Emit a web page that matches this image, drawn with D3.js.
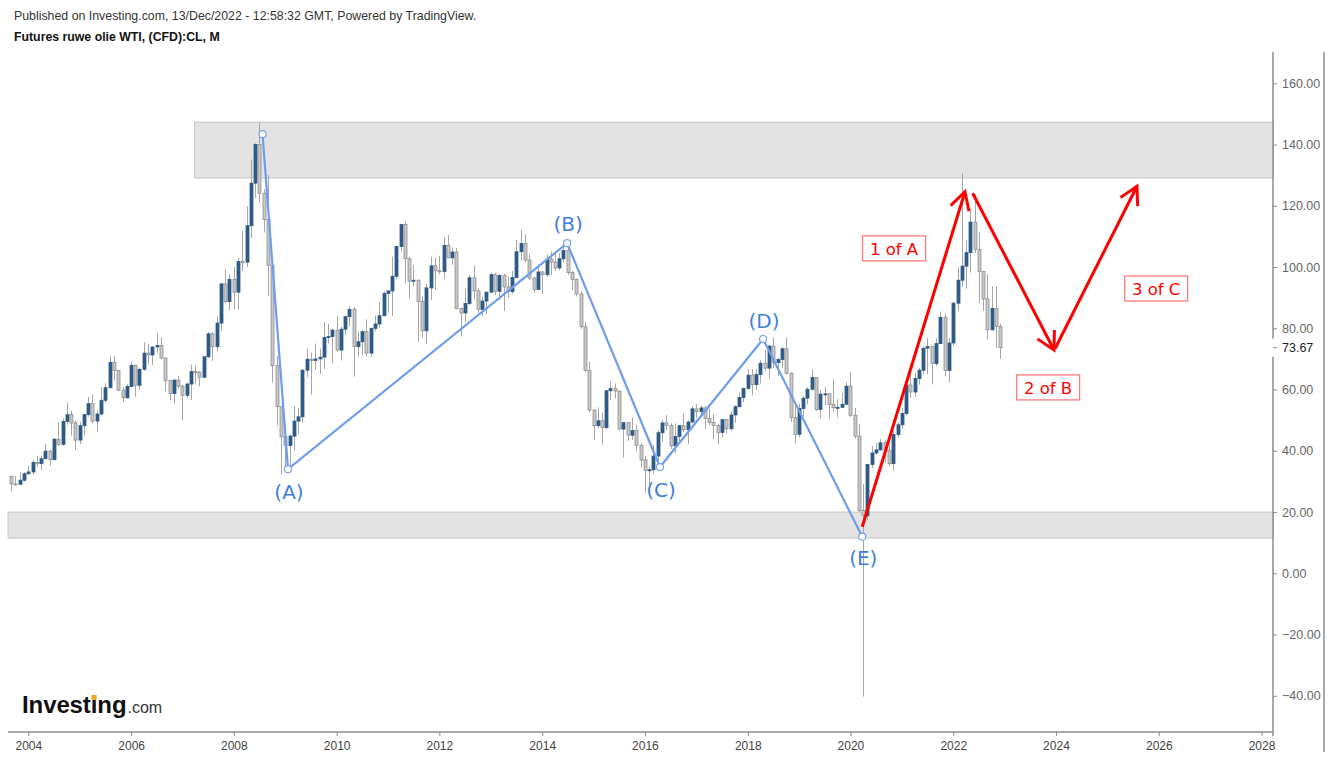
<!DOCTYPE html>
<html><head><meta charset="utf-8">
<script src="https://cdn.jsdelivr.net/npm/d3@7"></script>
<style>body{margin:0;background:#fff}svg{display:block;font-family:Arial,"Liberation Sans",sans-serif}</style>
</head><body><svg id="c" width="1332" height="758"></svg>
<script>
// Monthly candles, first bar = Sep 2003, last = Dec 2022
const firstMonth = [2003, 8];
const open = [
31.6,29.2,29.1,30.4,
32.5,33.1,36.2,35.8,37.4,39.9,37.1,43.8,42.1,49.6,51.8,49.1,
43.5,48.2,51.8,55.4,49.7,52.0,56.5,60.6,68.9,66.2,59.8,57.3,
61.0,67.9,61.4,66.6,71.9,71.3,73.9,74.4,70.3,62.9,58.7,63.1,
61.1,58.1,61.8,65.9,65.7,64.0,70.7,78.2,74.0,81.7,94.5,88.7,
96.0,91.8,101.8,101.6,113.5,127.4,140.0,124.1,115.5,100.6,67.8,54.4,
44.6,41.7,44.8,49.7,51.1,66.3,69.9,69.5,70.0,70.6,77.0,77.3,
79.4,72.9,79.7,83.8,86.2,74.0,75.6,78.9,71.9,80.0,81.4,84.1,
91.4,92.2,97.0,106.7,113.9,102.7,95.4,95.7,88.8,79.2,93.2,100.4,
98.8,98.5,107.1,103.0,104.9,86.5,85.0,88.1,96.5,92.2,86.2,88.9,
91.8,97.5,92.1,97.2,93.5,92.0,96.6,105.0,107.7,102.3,96.4,92.7,
98.4,97.5,102.6,101.6,99.7,102.7,105.4,98.2,96.0,91.2,80.5,66.2,
53.3,48.2,49.8,47.6,59.6,60.3,59.5,47.1,49.2,45.1,46.6,41.7,
37.0,33.6,33.8,38.3,45.9,49.1,48.3,41.6,44.7,48.2,46.9,49.4,
53.7,52.8,54.0,50.6,49.3,48.3,46.0,50.2,47.2,51.7,54.4,57.4,
60.4,64.7,61.6,64.9,68.6,67.0,74.2,68.8,69.8,73.3,65.3,50.9,
45.4,53.8,57.2,60.1,63.9,53.5,58.5,58.6,55.1,54.1,54.2,55.2,
61.1,51.6,44.8,20.5,18.8,35.5,39.3,40.3,42.6,40.2,35.8,45.3,
48.5,52.2,61.5,59.2,63.6,66.3,73.5,74.0,68.5,75.0,83.6,66.2,
75.2,88.2,95.7,100.3,104.7,114.7,105.8,98.6,89.6,79.5,86.5,80.6];
const high = [
31.9,31.7,33.0,33.0,
35.2,37.0,38.4,38.4,42.3,40.3,44.1,49.4,50.5,55.7,53.0,49.9,
49.5,52.0,57.6,58.3,53.0,60.9,62.1,70.9,70.9,66.3,61.0,61.7,
69.2,68.2,67.2,75.4,74.8,74.1,78.4,77.0,70.4,63.2,63.3,64.4,
61.5,62.3,68.1,67.9,66.0,70.7,78.8,78.8,83.9,94.7,99.3,97.8,
100.1,103.0,111.8,119.9,135.1,140.4,147.3,125.4,130.0,103.0,71.0,54.5,
49.0,45.3,54.7,54.0,66.7,73.4,72.0,75.0,73.4,82.0,81.5,79.8,
83.9,80.5,83.8,87.2,87.0,79.0,79.4,82.9,80.2,84.2,88.6,92.0,
92.6,103.4,107.0,114.0,114.8,103.4,100.6,95.9,90.5,94.6,103.4,103.0,
103.7,109.8,110.5,106.4,106.2,86.8,92.9,97.4,100.4,93.2,90.3,91.9,
98.2,98.0,97.8,97.8,97.0,98.8,108.9,112.2,110.7,104.4,96.8,100.8,
98.7,104.0,105.2,104.9,104.5,107.7,106.1,98.7,96.3,92.0,82.0,69.0,
53.7,54.2,52.5,59.9,62.6,62.0,59.7,49.3,49.5,50.9,48.4,42.6,
38.4,34.7,41.9,46.8,50.2,51.7,49.0,49.0,48.4,52.2,49.9,54.5,
55.2,54.9,54.6,53.8,52.0,48.9,50.4,50.2,52.9,54.8,59.1,60.5,
66.7,66.7,66.6,69.6,72.9,74.5,76.9,70.4,73.9,76.9,65.6,54.6,
55.4,57.8,60.7,66.6,64.0,59.9,60.9,58.8,63.4,56.9,58.8,62.3,
65.7,54.0,48.7,29.1,35.7,41.6,42.5,43.8,43.4,41.9,46.3,49.4,
53.9,63.8,67.9,65.5,67.0,74.0,76.9,74.0,76.7,85.4,84.9,76.9,
88.8,100.0,130.5,108.6,118.9,123.7,111.5,98.7,97.7,93.6,93.7,81.5];
const low = [
26.8,28.6,28.9,29.9,
32.2,32.2,34.8,33.6,37.3,35.2,37.0,41.6,41.6,48.5,45.0,40.3,
42.1,45.0,51.2,49.0,46.2,51.7,55.7,60.5,62.9,59.5,55.9,57.1,
60.8,57.6,59.9,66.2,68.3,68.0,72.0,69.8,59.5,56.6,55.4,60.3,
49.9,57.2,56.6,62.0,61.0,64.0,70.2,69.3,72.5,79.0,88.2,86.0,
86.1,86.1,98.7,100.0,109.6,122.6,121.1,111.3,90.5,62.3,48.3,32.4,
33.2,33.6,40.0,45.5,49.2,64.0,58.3,66.5,65.1,66.8,75.0,68.6,
72.4,69.5,77.9,80.6,64.2,70.8,71.1,70.8,70.8,79.0,80.2,84.1,
85.1,84.1,96.0,105.3,94.6,89.7,93.7,75.7,77.1,74.9,89.2,92.5,
97.6,96.1,102.9,100.7,86.2,77.3,82.1,87.6,89.6,84.9,84.0,84.6,
91.7,90.9,89.3,85.6,89.9,91.1,96.2,102.2,101.6,95.7,91.8,92.6,
91.2,96.9,97.4,98.7,98.9,101.4,97.5,92.5,90.4,79.8,65.7,52.7,
43.6,47.4,42.0,47.0,56.5,57.2,46.7,37.8,43.2,43.6,39.9,34.5,
26.2,26.1,32.5,35.2,43.0,46.7,40.6,39.2,42.5,46.0,42.2,49.0,
50.7,51.2,47.1,48.2,43.8,42.1,44.4,45.6,46.5,49.1,54.2,55.8,
59.8,58.1,59.9,62.0,66.2,63.6,67.0,64.4,67.1,64.8,49.4,42.4,
44.4,51.2,55.1,59.6,53.0,50.6,54.8,50.5,52.5,50.9,54.0,55.0,
51.1,44.0,19.9,-40.3,17.3,34.4,38.7,40.0,36.1,34.9,33.6,44.3,
47.2,51.6,57.3,57.6,61.6,64.9,65.0,61.7,67.6,74.9,64.4,62.4,
74.3,85.7,93.5,92.9,98.2,104.6,88.2,85.7,76.3,79.3,73.6,70.1];
const close = [
29.2,29.1,30.4,32.5,
33.1,36.2,35.8,37.4,39.9,37.1,43.8,42.1,49.6,51.8,49.1,43.5,
48.2,51.8,55.4,49.7,52.0,56.5,60.6,68.9,66.2,59.8,57.3,61.0,
67.9,61.4,66.6,71.9,71.3,73.9,74.4,70.3,62.9,58.7,63.1,61.1,
58.1,61.8,65.9,65.7,64.0,70.7,78.2,74.0,81.7,94.5,88.7,96.0,
91.8,101.8,101.6,113.5,127.4,140.0,124.1,115.5,100.6,67.8,54.4,44.6,
41.7,44.8,49.7,51.1,66.3,69.9,69.5,70.0,70.6,77.0,77.3,79.4,
72.9,79.7,83.8,86.2,74.0,75.6,78.9,71.9,80.0,81.4,84.1,91.4,
92.2,97.0,106.7,113.9,102.7,95.4,95.7,88.8,79.2,93.2,100.4,98.8,
98.5,107.1,103.0,104.9,86.5,85.0,88.1,96.5,92.2,86.2,88.9,91.8,
97.5,92.1,97.2,93.5,92.0,96.6,105.0,107.7,102.3,96.4,92.7,98.4,
97.5,102.6,101.6,99.7,102.7,105.4,98.2,96.0,91.2,80.5,66.2,53.3,
48.2,49.8,47.6,59.6,60.3,59.5,47.1,49.2,45.1,46.6,41.7,37.0,
33.6,33.8,38.3,45.9,49.1,48.3,41.6,44.7,48.2,46.9,49.4,53.7,
52.8,54.0,50.6,49.3,48.3,46.0,50.2,47.2,51.7,54.4,57.4,60.4,
64.7,61.6,64.9,68.6,67.0,74.2,68.8,69.8,73.3,65.3,50.9,45.4,
53.8,57.2,60.1,63.9,53.5,58.5,58.6,55.1,54.1,54.2,55.2,61.1,
51.6,44.8,20.5,18.8,35.5,39.3,40.3,42.6,40.2,35.8,45.3,48.5,
52.2,61.5,59.2,63.6,66.3,73.5,74.0,68.5,75.0,83.6,66.2,75.2,
88.2,95.7,100.3,104.7,114.7,105.8,98.6,89.6,79.5,86.5,80.6,73.67];

const yearTicks = [2004,2006,2008,2010,2012,2014,2016,2018,2020,2022,2024,2026,2028];
const priceTicks = [-40,-20,0,20,40,60,80,100,120,140,160];
const lastPrice = 73.67;

// Zones [startDate, top, bottom]
const zones = [["2007-03-28",147.3,129.1],["2003-08-10",20.0,11.5]];
// Elliott wave points
const waveDates = ["2008-07-23","2009-01-20","2014-06-27","2016-04-17","2018-04-20","2020-03-25"];
const waveValues = [143.4,34.0,107.8,34.7,76.5,11.95];
const waveLabels = ["","(A)","(B)","(C)","(D)","(E)"];
const waveLabelValues = [0,26.6,114.0,27.2,82.4,5.0];
// Red projection arrows [fromDate, fromValue, toDate, toValue]
const arrows = [["2020-03-25",15.2,"2022-03-25",124.6],["2022-05-19",124.1,"2023-12-18",72.9],["2023-12-26",73.4,"2025-07-30",126.4]];
const notes = [["1 of A","2020-11-06",106.1],["2 of B","2023-11-06",60.7],["3 of C","2025-12-13",93.0]];

const svg = d3.select("#c");
const x = d3.scaleUtc().domain([Date.UTC(2004,0,1), Date.UTC(2028,0,1)]).range([28.3, 1261.5]);
const y = d3.scaleLinear().domain([0,160]).range([573.3, 83.3]);
const pd = s => { const [a,b,c] = s.split("-").map(Number); return Date.UTC(a,b-1,c); };
const axisX = 1273, bottomY = 732;

// header
svg.append("text").attr("x",14).attr("y",20).attr("font-size",12.35).attr("fill","#333")
  .text("Published on Investing.com, 13/Dec/2022 - 12:58:32 GMT, Powered by TradingView.");
svg.append("text").attr("x",14).attr("y",41).attr("font-size",12.3).attr("font-weight","bold").attr("fill","#111")
  .text("Futures ruwe olie WTI, (CFD):CL, M");

// zones
zones.forEach(z => {
  svg.append("rect").attr("x", x(pd(z[0]))).attr("y", y(z[1]))
    .attr("width", axisX - x(pd(z[0]))).attr("height", y(z[2]) - y(z[1]))
    .attr("fill","#e3e3e3").attr("stroke","#c6c6c6").attr("stroke-width",1);
});

// candles
const bars = open.map((o,i) => ({d: Date.UTC(firstMonth[0], firstMonth[1]+i, 1), o, h: high[i], l: low[i], c: close[i]}));
const g = svg.append("g");
g.selectAll("line.w").data(bars).join("line").attr("class","w")
  .attr("x1", d => Math.round(x(d.d))+0.5).attr("x2", d => Math.round(x(d.d))+0.5)
  .attr("y1", d => y(d.h)).attr("y2", d => y(d.l)).attr("stroke","#a6a6a6").attr("stroke-width",1);
g.selectAll("rect.b").data(bars).join("rect").attr("class","b")
  .attr("x", d => Math.round(x(d.d))-1).attr("width",3)
  .attr("y", d => y(Math.max(d.o,d.c))).attr("height", d => Math.max(1, Math.abs(y(d.o)-y(d.c))))
  .attr("fill", d => d.c >= d.o ? "#2e5b87" : "#c9c9c9")
  .attr("stroke", d => d.c >= d.o ? "#2e5b87" : "#8f8f8f").attr("stroke-width",0.8);

// wave
const wpts = waveDates.map((d,i) => [x(pd(d)), y(waveValues[i])]);
svg.append("path").attr("d", d3.line()(wpts)).attr("fill","none").attr("stroke","#6f9ded").attr("stroke-width",2.2);
svg.selectAll("circle.wp").data(wpts).join("circle").attr("class","wp")
  .attr("cx", d => d[0]).attr("cy", d => d[1]).attr("r",3.5)
  .attr("fill","#fff").attr("stroke","#7aa3ec").attr("stroke-width",1.2);
waveLabels.forEach((t,i) => { if (!t) return;
  svg.append("text").attr("x", x(pd(waveDates[i]))+1).attr("y", y(waveLabelValues[i]))
    .attr("text-anchor","middle").attr("dominant-baseline","central")
    .attr("font-family","'DejaVu Sans', sans-serif")
    .attr("font-size",20).attr("fill","#3f7fe0").text(t);
});

// red arrows
arrows.forEach(a => {
  const x1 = x(pd(a[0])), y1 = y(a[1]), x2 = x(pd(a[2])), y2 = y(a[3]);
  const ang = Math.atan2(y2-y1, x2-x1), L = 20, sp = 0.5;
  const p1 = [x2 - L*Math.cos(ang-sp), y2 - L*Math.sin(ang-sp)];
  const p2 = [x2 - L*Math.cos(ang+sp), y2 - L*Math.sin(ang+sp)];
  svg.append("line").attr("x1",x1).attr("y1",y1).attr("x2",x2).attr("y2",y2)
    .attr("stroke","#ff0000").attr("stroke-width",3);
  svg.append("path").attr("d", d3.line()([p1,[x2,y2],p2])).attr("fill","none")
    .attr("stroke","#ff0000").attr("stroke-width",3).attr("stroke-linejoin","miter");
});

// notes
notes.forEach(n => {
  const cx = x(pd(n[1])), cy = y(n[2]);
  svg.append("rect").attr("x", cx-31.5).attr("y", cy-12.5).attr("width",63).attr("height",25)
    .attr("fill","#fff").attr("stroke","#ff7a7a").attr("stroke-width",1.3);
  svg.append("text").attr("x",cx).attr("y",cy+1).attr("text-anchor","middle").attr("dominant-baseline","central")
    .attr("font-family","'DejaVu Sans', sans-serif")
    .attr("font-size",16.5).attr("fill","#ff0000").text(n[0]);
});

// bottom axis
svg.append("line").attr("x1",8).attr("x2",axisX).attr("y1",bottomY).attr("y2",bottomY).attr("stroke","#8c8c8c").attr("stroke-width",1.5);
const xa = svg.append("g").attr("transform",`translate(0,${bottomY})`)
  .call(d3.axisBottom(x).tickValues(yearTicks.map(v => Date.UTC(v,0,1))).tickFormat(d3.utcFormat("%Y")).tickSize(4).tickPadding(5));
xa.select(".domain").remove();
xa.selectAll(".tick line").attr("stroke","#8c8c8c");
xa.selectAll(".tick text").attr("font-size",12).attr("fill","#444").attr("font-family","Arial, 'Liberation Sans', sans-serif");

// right axis
svg.append("line").attr("x1",axisX).attr("x2",axisX).attr("y1",52).attr("y2",bottomY+4).attr("stroke","#8c8c8c").attr("stroke-width",1.5);
svg.append("line").attr("x1",1324).attr("x2",1324).attr("y1",52).attr("y2",752).attr("stroke","#8c8c8c").attr("stroke-width",1.5);
const ya = svg.append("g").attr("transform",`translate(${axisX},0)`)
  .call(d3.axisRight(y).tickValues(priceTicks).tickFormat(d3.format(".2f")).tickSize(4).tickPadding(5));
ya.select(".domain").remove();
ya.selectAll(".tick line").attr("stroke","#8c8c8c");
ya.selectAll(".tick text").attr("font-size",12.5).attr("fill","#666").attr("font-family","Arial, 'Liberation Sans', sans-serif");
svg.append("rect").attr("x",axisX-2).attr("y",y(lastPrice)-9).attr("width",48).attr("height",18).attr("fill","#fff");
svg.append("line").attr("x1",axisX).attr("x2",axisX+4).attr("y1",y(lastPrice)).attr("y2",y(lastPrice)).attr("stroke","#8c8c8c");
svg.append("text").attr("x",axisX+9).attr("y",y(lastPrice)).attr("dominant-baseline","central")
  .attr("font-size",12.5).attr("fill","#222").text(d3.format(".2f")(lastPrice));

// logo
const logo = svg.append("text").attr("x",22).attr("y",713).attr("font-size",24).attr("font-weight","bold")
  .attr("fill","#111").attr("letter-spacing",-0.1).text("Investing");
const lw = logo.node().getComputedTextLength();
const ib = logo.node().getExtentOfChar(6);
svg.append("rect").attr("x", ib.x + ib.width/2 - 2.5).attr("y", ib.y + 4).attr("width",5).attr("height",5).attr("fill","#f5a623");
svg.append("text").attr("x",22+lw+1).attr("y",713).attr("font-size",16).attr("fill","#333").text(".com");
</script></body></html>
